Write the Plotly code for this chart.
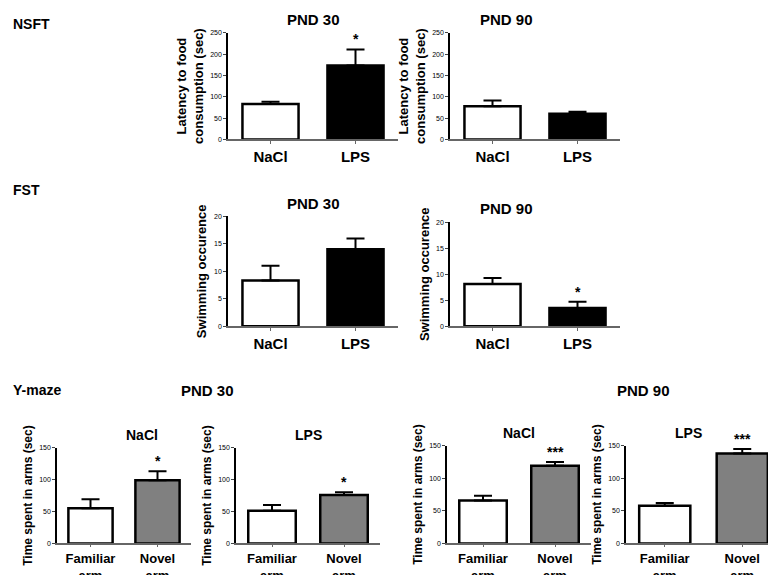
import plotly.graph_objects as go

W, H = 776, 575

# ---- data ----
groups = ["NaCl", "LPS"]
arms = ["Familiar<br>arm", "Novel<br>arm"]

nsft_30 = [83, 173]
nsft_30_err = [5, 38]
nsft_90 = [78, 60]
nsft_90_err = [13, 5]

fst_30 = [8.3, 14.0]
fst_30_err = [2.7, 2.0]
fst_90 = [8.1, 3.5]
fst_90_err = [1.2, 1.2]

ym30_nacl = [55, 99]
ym30_nacl_err = [14, 14]
ym30_lps = [51, 76]
ym30_lps_err = [9, 4]
ym90_nacl = [66, 119]
ym90_nacl_err = [7, 6]
ym90_lps = [58, 138]
ym90_lps_err = [4, 7]

# (cats, values, errors, colors, stars, ymax, dtick, ytitle, title, px box)
panels = [
    (groups, nsft_30, nsft_30_err, ["white", "black"], ["", "*"], 250, 50,
     "Latency to food<br>consumption (sec)", "PND 30", (220, 390, 21, 129)),
    (groups, nsft_90, nsft_90_err, ["white", "black"], ["", ""], 250, 50,
     "Latency to food<br>consumption (sec)", "PND 90", (442, 612, 21, 129)),
    (groups, fst_30, fst_30_err, ["white", "black"], ["", ""], 20, 5,
     "Swimming occurence", "PND 30", (220, 390, 207, 318)),
    (groups, fst_90, fst_90_err, ["white", "black"], ["", "*"], 20, 5,
     "Swimming occurence", "PND 90", (442, 612, 213, 318)),
    (arms, ym30_nacl, ym30_nacl_err, ["white", "#808080"], ["", "*"], 150, 50,
     "Time spent in arms (sec)", "NaCl", (49, 183, 441, 538)),
    (arms, ym30_lps, ym30_lps_err, ["white", "#808080"], ["", "*"], 150, 50,
     "Time spent in arms (sec)", "LPS", (228, 372, 441, 538)),
    (arms, ym90_nacl, ym90_nacl_err, ["white", "#808080"], ["", "***"], 150, 50,
     "Time spent in arms (sec)", "NaCl", (439, 583, 439, 538)),
    (arms, ym90_lps, ym90_lps_err, ["white", "#808080"], ["", "***"], 150, 50,
     "Time spent in arms (sec)", "LPS", (618, 773, 439, 538)),
]

fig = go.Figure()
layout = {}
annotations = []
font = "Arial, Liberation Sans, sans-serif"

for i, (cats, vals, errs, cols, stars, ymax, dtick, ytitle, title, box) in enumerate(panels):
    n = "" if i == 0 else str(i + 1)
    x0, x1, y0, y1 = box
    small = ymax == 150
    fig.add_trace(go.Bar(
        x=cats, y=vals, xaxis="x" + n, yaxis="y" + n, width=0.66,
        marker=dict(color=cols, line=dict(color="black", width=2.5)),
        error_y=dict(type="data", array=errs, arrayminus=[0, 0], symmetric=False,
                     color="black", thickness=2, width=9),
        showlegend=False,
    ))
    layout["xaxis" + n] = dict(
        domain=[x0 / W, x1 / W], anchor="y" + n, range=[-0.5, 1.5],
        showline=True, linecolor="#666", linewidth=2, ticks="outside",
        ticklen=2 if small else 3, tickcolor="#666", showgrid=False,
        tickfont=dict(family=font, size=15 if not small else 13, color="black", weight="bold"),
    )
    layout["yaxis" + n] = dict(
        domain=[1 - y1 / H, 1 - y0 / H], anchor="x" + n, range=[0, ymax],
        dtick=dtick, showline=True, linecolor="black", linewidth=1.5,
        ticks="outside", ticklen=3, showgrid=False, zeroline=False,
        tickfont=dict(family=font, size=7, color="black"),
        title=dict(text=ytitle, standoff=4,
                   font=dict(family=font, size=13 if not small else 12, color="black", weight="bold")),
    )
    for c, v, e, s in zip(cats, vals, errs, stars):
        if s:
            annotations.append(dict(x=c, y=v + e, xref="x" + n, yref="y" + n, text=s,
                                    showarrow=False, yanchor="bottom", yshift=0,
                                    font=dict(family=font, size=14, color="black", weight="bold")))
    annotations.append(dict(x=(x0 + x1) / 2 / W, y=1 - (y0 - 3) / H, xref="paper", yref="paper",
                            text=title, showarrow=False, yanchor="bottom",
                            font=dict(family=font, size=15 if not small else 14, color="black", weight="bold")))

# headings
for txt, x, y, size in [("NSFT", 3, 12, 14), ("FST", 3, 180, 14), ("Y-maze", 3, 383, 14),
                        ("PND 30", 200, 383, 15), ("PND 90", 635, 383, 15)]:
    annotations.append(dict(x=x / W, y=1 - y / H, xref="paper", yref="paper", text=txt,
                            showarrow=False, xanchor="left" if txt in ("NSFT", "FST", "Y-maze") else "center",
                            yanchor="middle",
                            font=dict(family=font, size=size, color="black", weight="bold")))

fig.update_layout(
    width=W, height=H, margin=dict(l=0, r=0, t=0, b=0),
    paper_bgcolor="white", plot_bgcolor="white", annotations=annotations,
    bargap=0.3, **layout,
)
fig.write_html("out.html")
